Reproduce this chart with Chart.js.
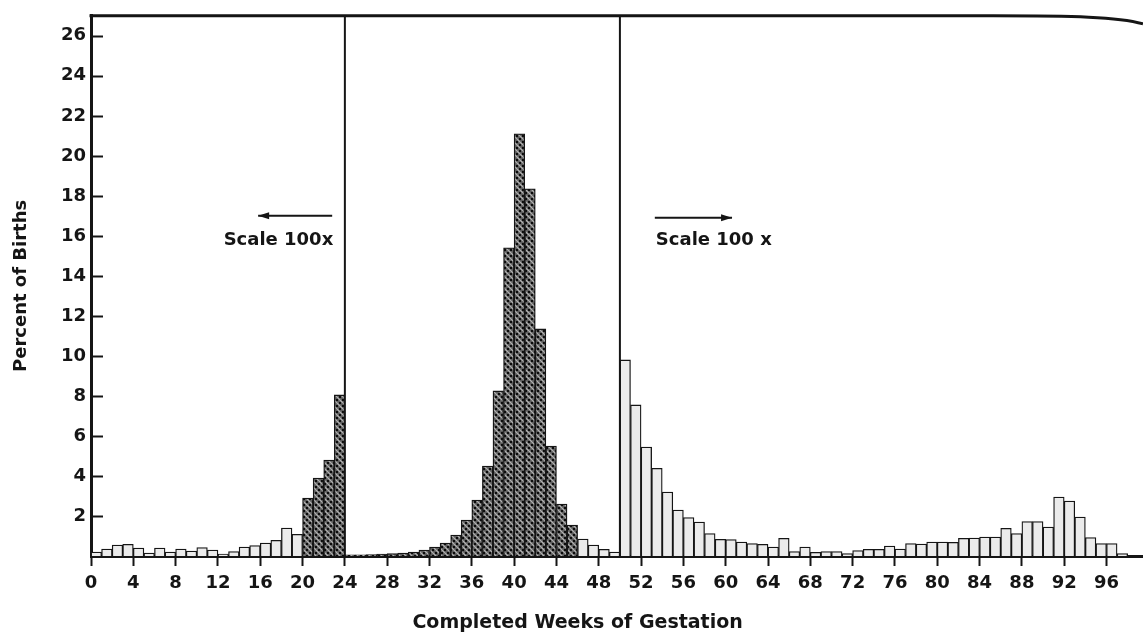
<!DOCTYPE html>
<html>
<head>
<meta charset="utf-8">
<script src="https://cdn.jsdelivr.net/npm/chart.js@4/dist/chart.umd.min.js"></script>
<style>
  html, body { margin: 0; padding: 0; background: #fff; }
  canvas { display: block; }
</style>
</head>
<body>
<canvas id="c" width="1143" height="637"></canvas>
<script>
// Percent of births by completed week of gestation.
// The two outer blocks are drawn magnified 100x.
const earlyStart = 0;
const earlyPct = [0.2, 0.35, 0.55, 0.58, 0.4, 0.15, 0.4, 0.2, 0.35, 0.25, 0.42, 0.3,
                  0.1, 0.22, 0.45, 0.52, 0.65, 0.78, 1.4, 1.08, 2.9, 3.9, 4.8, 8.05];

const termStart = 24;
const termPct = [0.06, 0.06, 0.07, 0.1, 0.12, 0.15, 0.2, 0.3, 0.45, 0.65, 1.05, 1.8, 2.8,
                 4.5, 8.25, 15.4, 21.1, 18.35, 11.35, 5.5, 2.6, 1.55, 0.85, 0.55, 0.33, 0.2];

const lateStart = 50;
const latePct = [9.8, 7.55, 5.45, 4.38, 3.2, 2.3, 1.92, 1.7, 1.12, 0.83, 0.82, 0.7,
                 0.62, 0.58, 0.45, 0.88, 0.22, 0.45, 0.18, 0.22, 0.22, 0.12, 0.27, 0.33,
                 0.33, 0.5, 0.35, 0.62, 0.6, 0.7, 0.7, 0.68, 0.88, 0.9, 0.95, 0.95,
                 1.38, 1.12, 1.72, 1.72, 1.45, 2.95, 2.75, 1.95, 0.92, 0.62, 0.62, 0.12];

// weeks drawn with the dark cross-hatch
const hatchFrom = 20;
const hatchTo = 45;

// weeks where the plotting scale changes
const scaleBreaks = [24, 50];

const xTicks = [0, 4, 8, 12, 16, 20, 24, 28, 32, 36, 40, 44, 48, 52, 56, 60, 64, 68, 72, 76, 80, 84, 88, 92, 96];
const xTickLabels = ['0', '4', '8', '12', '16', '20', '24', '28', '32', '36', '40', '44', '48', '52', '56', '60', '64', '68', '72', '76', '80', '84', '88', '92', '96'];
const yTicks = [2, 4, 6, 8, 10, 12, 14, 16, 18, 20, 22, 24, 26];

const xTitle = 'Completed Weeks of Gestation';
const yTitle = 'Percent of Births';
const leftNote = 'Scale 100x';
const rightNote = 'Scale 100 x';

// build one point per week; each bar spans [week, week + 1)
function toPoints(start, values) {
  return values.map((v, i) => ({ x: start + i + 0.5, y: v, week: start + i }));
}
const points = [].concat(
  toPoints(earlyStart, earlyPct),
  toPoints(termStart, termPct),
  toPoints(lateStart, latePct)
);

const canvas = document.getElementById('c');
const ctx2d = canvas.getContext('2d');

function makeHatch() {
  const t = document.createElement('canvas');
  t.width = 6; t.height = 6;
  const g = t.getContext('2d');
  g.fillStyle = '#5e5e5e';
  g.fillRect(0, 0, 6, 6);
  g.strokeStyle = '#b4b4b4';
  g.lineWidth = 1.2;
  g.beginPath();
  g.moveTo(-1, -1); g.lineTo(7, 7);
  g.moveTo(-1, 5); g.lineTo(1, 7);
  g.moveTo(5, -1); g.lineTo(7, 1);
  g.stroke();
  g.fillStyle = '#0c0c0c';
  g.fillRect(3, 0, 2, 2);
  g.fillRect(0, 3, 2, 2);
  return ctx2d.createPattern(t, 'repeat');
}
const hatch = makeHatch();
const lightFill = '#ebebeb';
const ink = '#151515';
const fontFamily = "'DejaVu Sans', 'Liberation Sans', sans-serif";

function arrow(ctx, x1, x2, y, headAtStart) {
  ctx.beginPath();
  ctx.moveTo(x1, y); ctx.lineTo(x2, y);
  ctx.stroke();
  const tip = headAtStart ? x1 : x2;
  const dir = headAtStart ? 1 : -1;
  ctx.beginPath();
  ctx.moveTo(tip, y);
  ctx.lineTo(tip + dir * 11, y - 3.5);
  ctx.lineTo(tip + dir * 11, y + 3.5);
  ctx.closePath();
  ctx.fill();
}

const decorations = {
  id: 'decorations',
  afterDatasetsDraw(chart) {
    const { ctx, chartArea: a, scales: { x, y } } = chart;
    ctx.save();
    ctx.strokeStyle = ink;
    ctx.fillStyle = ink;

    // top edge of the frame, bending gently down at the far right
    ctx.lineWidth = 3;
    ctx.beginPath();
    ctx.moveTo(a.left - 1.5, a.top);
    ctx.lineTo(a.right - 150, a.top);
    ctx.bezierCurveTo(a.right - 70, a.top, a.right - 25, a.top + 1, a.right, a.top + 8);
    ctx.stroke();

    // lines separating the magnified blocks
    ctx.lineWidth = 2;
    scaleBreaks.forEach(w => {
      const px = x.getPixelForValue(w);
      ctx.beginPath();
      ctx.moveTo(px, a.top);
      ctx.lineTo(px, a.bottom);
      ctx.stroke();
    });

    // y tick marks pointing into the plot
    yTicks.forEach(v => {
      const py = Math.round(y.getPixelForValue(v)) + 0.5;
      ctx.beginPath();
      ctx.moveTo(a.left, py);
      ctx.lineTo(a.left + 12, py);
      ctx.stroke();
    });

    // magnification notes
    ctx.lineWidth = 2;
    arrow(ctx, x.getPixelForValue(15.8), x.getPixelForValue(22.8), y.getPixelForValue(17.0), true);
    arrow(ctx, x.getPixelForValue(53.3), x.getPixelForValue(60.6), y.getPixelForValue(16.9), false);

    ctx.font = 'bold 18px ' + fontFamily;
    ctx.textBaseline = 'middle';
    ctx.textAlign = 'right';
    ctx.fillText(leftNote, x.getPixelForValue(22.9), y.getPixelForValue(15.8));
    ctx.textAlign = 'left';
    ctx.fillText(rightNote, x.getPixelForValue(53.4), y.getPixelForValue(15.8));

    // x axis title
    ctx.font = 'bold 19px ' + fontFamily;
    ctx.textAlign = 'center';
    ctx.fillText(xTitle, x.getPixelForValue(46), 623);
    ctx.restore();
  }
};

new Chart(canvas, {
  type: 'bar',
  data: {
    datasets: [{
      data: points,
      backgroundColor: c => {
        const p = c.raw;
        return p && p.week >= hatchFrom && p.week <= hatchTo ? hatch : lightFill;
      },
      borderColor: ink,
      borderWidth: 1.3,
      barPercentage: 1,
      categoryPercentage: 1
    }]
  },
  options: {
    responsive: false,
    animation: false,
    devicePixelRatio: 1,
    layout: { padding: { top: 15, right: 0, bottom: 0, left: 0 } },
    plugins: { legend: { display: false }, tooltip: { enabled: false } },
    scales: {
      x: {
        type: 'linear',
        min: 0,
        max: 99.45,
        offset: false,
        afterBuildTicks: s => { s.ticks = xTicks.map(v => ({ value: v })); },
        afterFit: s => { s.height = 81; },
        ticks: {
          color: ink,
          font: { family: fontFamily, size: 18, weight: 'bold' },
          padding: 7,
          maxRotation: 0,
          autoSkip: false,
          callback: (v) => xTickLabels[xTicks.indexOf(v)]
        },
        grid: {
          display: true,
          drawOnChartArea: false,
          drawTicks: true,
          tickLength: 10,
          tickWidth: 2,
          tickColor: ink,
          offset: false
        },
        border: { display: true, color: ink, width: 3 }
      },
      y: {
        min: 0,
        max: 27,
        afterBuildTicks: s => { s.ticks = yTicks.map(v => ({ value: v })); },
        afterFit: s => { s.width = 91; },
        ticks: {
          color: ink,
          font: { family: fontFamily, size: 18, weight: 'bold' },
          padding: 5
        },
        grid: { display: false, drawTicks: false },
        border: { display: true, color: ink, width: 3 },
        title: {
          display: true,
          text: yTitle,
          color: ink,
          font: { family: fontFamily, size: 18, weight: 'bold' },
          padding: { top: 11, bottom: 0 }
        }
      }
    }
  },
  plugins: [decorations]
});
</script>
</body>
</html>
